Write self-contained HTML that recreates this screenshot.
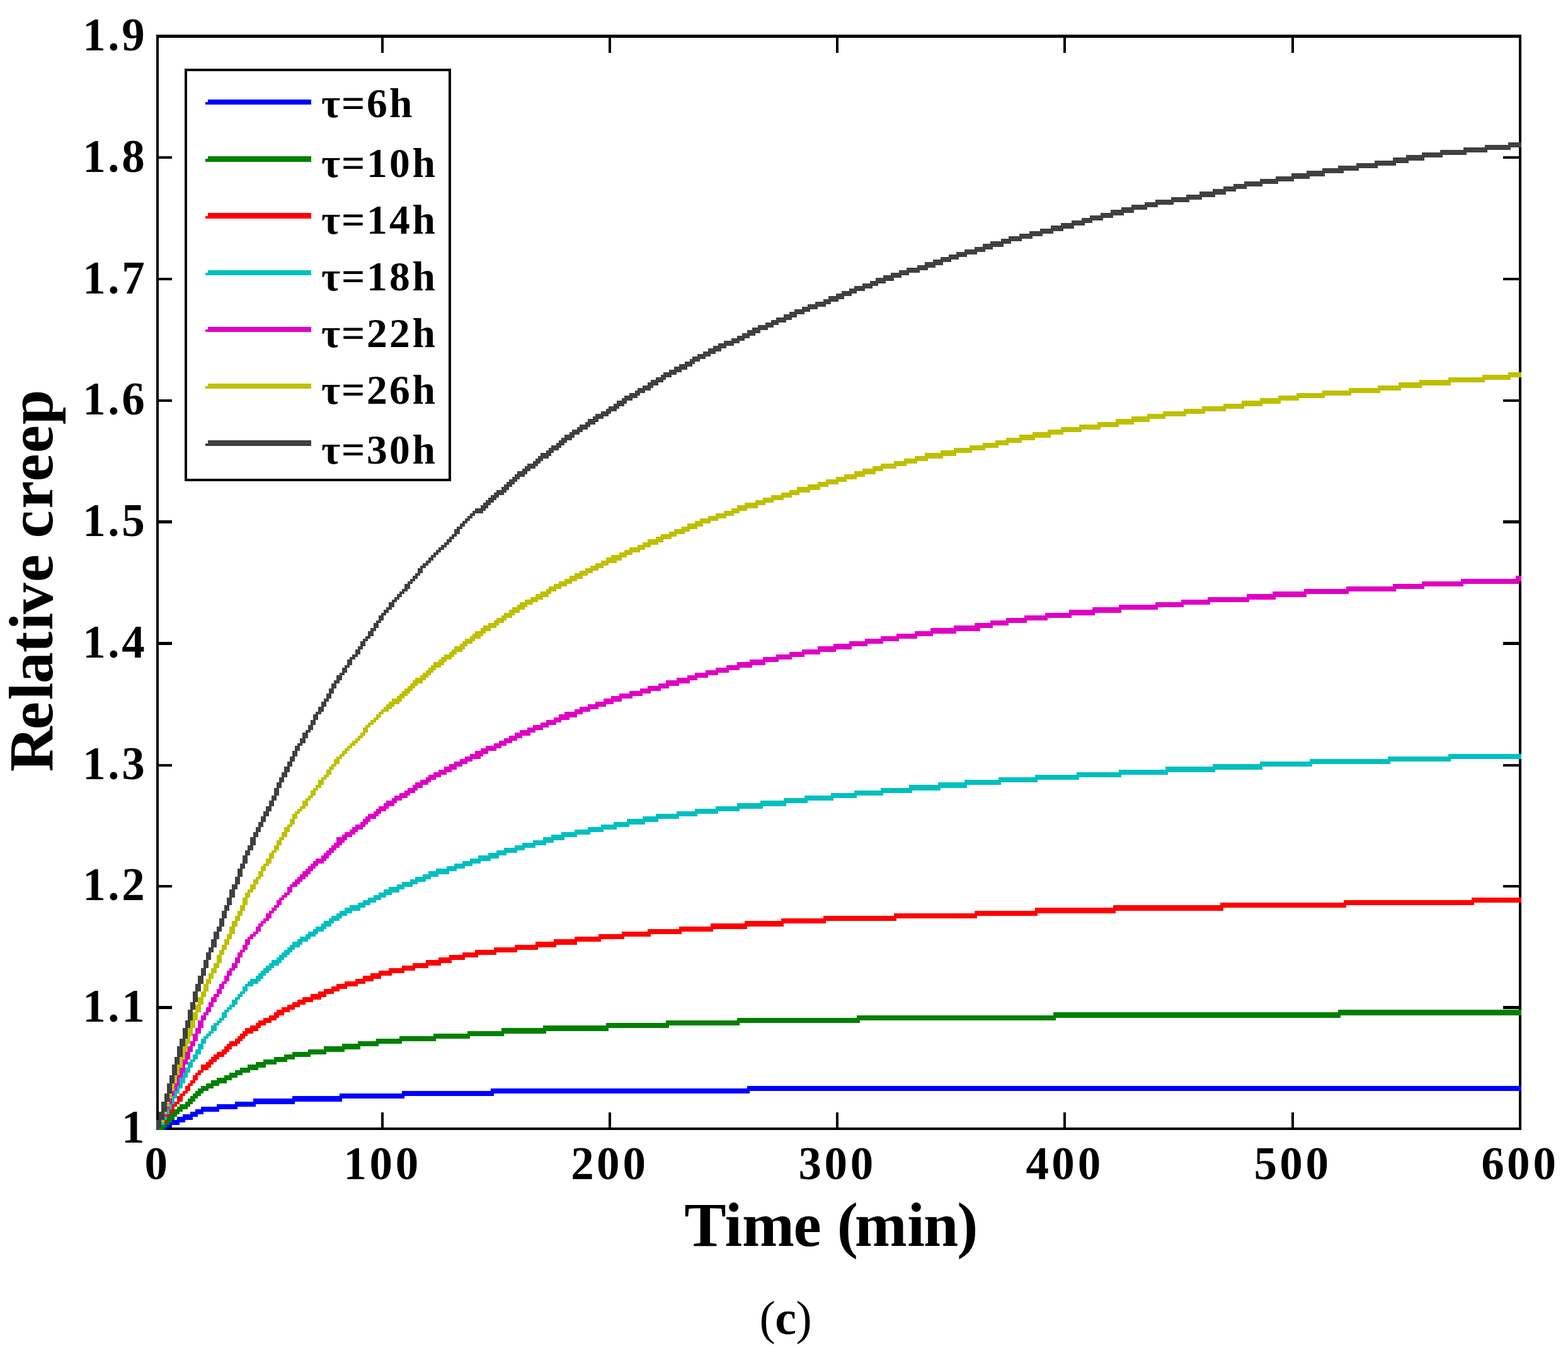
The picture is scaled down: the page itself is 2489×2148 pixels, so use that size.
<!DOCTYPE html>
<html lang="en">
<head>
<meta charset="utf-8">
<title>Relative creep vs. time</title>
<style>
html,body{margin:0;padding:0;background:#fff;}
body{width:2489px;height:2148px;overflow:hidden;}
svg{display:block;}
text{font-family:"Liberation Serif","DejaVu Serif",serif;fill:#000;}
.b{font-weight:bold;}
</style>
</head>
<body>
<svg width="2489" height="2148" viewBox="0 0 2489 2148">
<rect x="0" y="0" width="2489" height="2148" fill="#ffffff"/>
<g id="axes" fill="#000" shape-rendering="crispEdges">
<rect x="248.0" y="55.4" width="4.1" height="1738.7"/>
<rect x="2410.6" y="55.4" width="4.2" height="1738.7"/>
<rect x="248.0" y="55.4" width="2166.8" height="4.2"/>
<rect x="248.0" y="1790.0" width="2166.8" height="4.1"/>
<rect x="605.0" y="1765.5" width="4.2" height="24.5"/>
<rect x="605.0" y="59.6" width="4.2" height="24.0"/>
<rect x="965.6" y="1765.5" width="4.2" height="24.5"/>
<rect x="965.6" y="59.6" width="4.2" height="24.0"/>
<rect x="1327.0" y="1765.5" width="4.2" height="24.5"/>
<rect x="1327.0" y="59.6" width="4.2" height="24.0"/>
<rect x="1687.9" y="1765.5" width="4.2" height="24.5"/>
<rect x="1687.9" y="59.6" width="4.2" height="24.0"/>
<rect x="2049.7" y="1765.5" width="4.1" height="24.5"/>
<rect x="2049.7" y="59.6" width="4.1" height="24.0"/>
<rect x="252.1" y="1597.4" width="20.6" height="4.2"/>
<rect x="2386.2" y="1597.4" width="24.4" height="4.2"/>
<rect x="252.1" y="1404.8" width="20.6" height="4.2"/>
<rect x="2386.2" y="1404.8" width="24.4" height="4.2"/>
<rect x="252.1" y="1212.5" width="20.6" height="4.2"/>
<rect x="2386.2" y="1212.5" width="24.4" height="4.2"/>
<rect x="252.1" y="1019.4" width="20.6" height="4.2"/>
<rect x="2386.2" y="1019.4" width="24.4" height="4.2"/>
<rect x="252.1" y="826.3" width="20.6" height="4.2"/>
<rect x="2386.2" y="826.3" width="24.4" height="4.2"/>
<rect x="252.1" y="633.7" width="20.6" height="4.2"/>
<rect x="2386.2" y="633.7" width="24.4" height="4.2"/>
<rect x="252.1" y="441.1" width="20.6" height="4.1"/>
<rect x="2386.2" y="441.1" width="24.4" height="4.1"/>
<rect x="252.1" y="248.2" width="20.6" height="4.1"/>
<rect x="2386.2" y="248.2" width="24.4" height="4.1"/>
</g>
<g id="curves" shape-rendering="crispEdges">
<path fill="#0000ff" d="M260.5 1790H264.6V1794.1H260.5ZM264.6 1785.9H268.8V1790H264.6ZM268.8 1781.7H272.9V1790H268.8ZM272.9 1777.6H281.2V1785.9H272.9ZM281.2 1773.4H285.4V1785.9H281.2ZM285.4 1773.4H289.5V1781.7H285.4ZM289.5 1769.3H293.7V1781.7H289.5ZM293.7 1769.3H302V1777.6H293.7ZM302 1765.1H306.1V1777.6H302ZM306.1 1765.1H310.3V1773.4H306.1ZM310.3 1761H314.4V1773.4H310.3ZM314.4 1761H318.6V1769.3H314.4ZM318.6 1756.8H322.7V1769.3H318.6ZM322.7 1756.8H343.5V1765.1H322.7ZM343.5 1752.7H347.6V1765.1H343.5ZM347.6 1752.7H372.5V1761H347.6ZM372.5 1748.5H376.7V1761H372.5ZM376.7 1748.5H401.6V1756.8H376.7ZM401.6 1744.4H405.7V1756.8H401.6ZM405.7 1744.4H463.8V1752.7H405.7ZM463.8 1740.2H468V1752.7H463.8ZM468 1740.2H538.6V1748.5H468ZM538.6 1736.1H542.7V1748.5H538.6ZM542.7 1736.1H638.2V1744.4H542.7ZM638.2 1731.9H642.3V1744.4H638.2ZM642.3 1731.9H779.3V1740.2H642.3ZM779.3 1727.8H783.5V1740.2H779.3ZM783.5 1727.8H1186.1V1736.1H783.5ZM1186.1 1723.6H1190.2V1736.1H1186.1ZM1190.2 1723.6H2414.8V1731.9H1190.2Z"/>
<path fill="#008000" d="M252.2 1790H256.3V1794.1H252.2ZM256.3 1785.9H260.5V1794.1H256.3ZM260.5 1781.7H264.6V1790H260.5ZM264.6 1773.4H268.8V1785.9H264.6ZM268.8 1769.3H272.9V1781.7H268.8ZM272.9 1765.1H277.1V1777.6H272.9ZM277.1 1761H281.2V1773.4H277.1ZM281.2 1756.8H285.4V1769.3H281.2ZM285.4 1752.7H289.5V1765.1H285.4ZM289.5 1752.7H293.7V1761H289.5ZM293.7 1748.5H297.8V1761H293.7ZM297.8 1744.4H302V1756.8H297.8ZM302 1740.2H306.1V1752.7H302ZM306.1 1736.1H310.3V1748.5H306.1ZM310.3 1731.9H314.4V1744.4H310.3ZM314.4 1727.8H318.6V1740.2H314.4ZM318.6 1723.6H322.7V1736.1H318.6ZM322.7 1723.6H326.9V1731.9H322.7ZM326.9 1719.5H331V1731.9H326.9ZM331 1719.5H335.2V1727.8H331ZM335.2 1715.3H339.3V1727.8H335.2ZM339.3 1715.3H343.5V1723.6H339.3ZM343.5 1711.2H347.6V1723.6H343.5ZM347.6 1711.2H355.9V1719.5H347.6ZM355.9 1707H360.1V1719.5H355.9ZM360.1 1707H364.2V1715.3H360.1ZM364.2 1702.9H368.4V1715.3H364.2ZM368.4 1702.9H372.5V1711.2H368.4ZM372.5 1698.7H376.7V1711.2H372.5ZM376.7 1698.7H380.8V1707H376.7ZM380.8 1694.6H385V1707H380.8ZM385 1694.6H393.3V1702.9H385ZM393.3 1690.4H397.4V1702.9H393.3ZM397.4 1690.4H405.7V1698.7H397.4ZM405.7 1686.3H409.9V1698.7H405.7ZM409.9 1686.3H418.2V1694.6H409.9ZM418.2 1682.1H422.3V1694.6H418.2ZM422.3 1682.1H434.8V1690.4H422.3ZM434.8 1678H438.9V1690.4H434.8ZM438.9 1678H451.4V1686.3H438.9ZM451.4 1673.8H455.5V1686.3H451.4ZM455.5 1673.8H463.8V1682.1H455.5ZM463.8 1669.7H468V1682.1H463.8ZM468 1669.7H488.8V1678H468ZM488.8 1665.5H492.9V1678H488.8ZM492.9 1665.5H513.7V1673.8H492.9ZM513.7 1661.4H517.8V1673.8H513.7ZM517.8 1661.4H542.7V1669.7H517.8ZM542.7 1657.2H546.9V1669.7H542.7ZM546.9 1657.2H567.6V1665.5H546.9ZM567.6 1653.1H571.8V1665.5H567.6ZM571.8 1653.1H596.7V1661.4H571.8ZM596.7 1648.9H600.8V1661.4H596.7ZM600.8 1648.9H634V1657.2H600.8ZM634 1644.8H638.2V1657.2H634ZM638.2 1644.8H688V1653.1H638.2ZM688 1640.6H692.1V1653.1H688ZM692.1 1640.6H742V1648.9H692.1ZM742 1636.5H746.1V1648.9H742ZM746.1 1636.5H795.9V1644.8H746.1ZM795.9 1632.3H800.1V1644.8H795.9ZM800.1 1632.3H862.3V1640.6H800.1ZM862.3 1628.2H866.5V1640.6H862.3ZM866.5 1628.2H961.9V1636.5H866.5ZM961.9 1624H966.1V1636.5H961.9ZM966.1 1624H1057.4V1632.3H966.1ZM1057.4 1619.9H1061.6V1632.3H1057.4ZM1061.6 1619.9H1169.5V1628.2H1061.6ZM1169.5 1615.7H1173.6V1628.2H1169.5ZM1173.6 1615.7H1360.4V1624H1173.6ZM1360.4 1611.6H1364.6V1624H1360.4ZM1364.6 1611.6H1671.7V1619.9H1364.6ZM1671.7 1607.4H1675.9V1619.9H1671.7ZM1675.9 1607.4H2124.2V1615.7H1675.9ZM2124.2 1603.3H2128.3V1615.7H2124.2ZM2128.3 1603.3H2414.8V1611.6H2128.3Z"/>
<path fill="#ff0000" d="M260.5 1777.6H264.6V1781.7H260.5ZM264.6 1769.3H268.8V1773.4H264.6ZM268.8 1761H272.9V1769.3H268.8ZM272.9 1752.7H277.1V1765.1H272.9ZM277.1 1748.5H281.2V1756.8H277.1ZM281.2 1740.2H285.4V1752.7H281.2ZM285.4 1736.1H289.5V1748.5H285.4ZM289.5 1731.9H293.7V1740.2H289.5ZM293.7 1723.6H297.8V1736.1H293.7ZM297.8 1719.5H302V1731.9H297.8ZM302 1715.3H306.1V1723.6H302ZM306.1 1707H310.3V1719.5H306.1ZM310.3 1702.9H314.4V1715.3H310.3ZM314.4 1698.7H318.6V1707H314.4ZM318.6 1690.4H322.7V1702.9H318.6ZM322.7 1690.4H326.9V1698.7H322.7ZM326.9 1686.3H331V1698.7H326.9ZM331 1682.1H335.2V1694.6H331ZM335.2 1678H339.3V1690.4H335.2ZM339.3 1673.8H343.5V1686.3H339.3ZM343.5 1669.7H347.6V1682.1H343.5ZM347.6 1669.7H351.8V1678H347.6ZM351.8 1665.5H355.9V1678H351.8ZM355.9 1661.4H360.1V1673.8H355.9ZM360.1 1657.2H364.2V1669.7H360.1ZM364.2 1653.1H368.4V1665.5H364.2ZM368.4 1653.1H372.5V1661.4H368.4ZM372.5 1648.9H376.7V1661.4H372.5ZM376.7 1644.8H380.8V1657.2H376.7ZM380.8 1640.6H385V1653.1H380.8ZM385 1636.5H389.1V1648.9H385ZM389.1 1632.3H393.3V1644.8H389.1ZM393.3 1632.3H397.4V1640.6H393.3ZM397.4 1628.2H401.6V1640.6H397.4ZM401.6 1628.2H405.7V1636.5H401.6ZM405.7 1624H409.9V1636.5H405.7ZM409.9 1619.9H414V1632.3H409.9ZM414 1619.9H418.2V1628.2H414ZM418.2 1615.7H422.3V1628.2H418.2ZM422.3 1615.7H426.5V1624H422.3ZM426.5 1611.6H430.6V1624H426.5ZM430.6 1611.6H434.8V1619.9H430.6ZM434.8 1607.4H438.9V1619.9H434.8ZM438.9 1603.3H443.1V1615.7H438.9ZM443.1 1603.3H447.2V1611.6H443.1ZM447.2 1599.1H451.4V1611.6H447.2ZM451.4 1599.1H455.5V1607.4H451.4ZM455.5 1595H459.7V1607.4H455.5ZM459.7 1595H463.8V1603.3H459.7ZM463.8 1590.8H468V1603.3H463.8ZM468 1590.8H472.1V1599.1H468ZM472.1 1586.7H476.3V1599.1H472.1ZM476.3 1586.7H480.4V1595H476.3ZM480.4 1582.5H484.6V1595H480.4ZM484.6 1582.5H492.9V1590.8H484.6ZM492.9 1578.4H497.1V1590.8H492.9ZM497.1 1578.4H505.4V1586.7H497.1ZM505.4 1574.2H509.5V1586.7H505.4ZM509.5 1574.2H513.7V1582.5H509.5ZM513.7 1570.1H517.8V1582.5H513.7ZM517.8 1570.1H526.1V1578.4H517.8ZM526.1 1565.9H530.3V1578.4H526.1ZM530.3 1565.9H534.4V1574.2H530.3ZM534.4 1561.8H538.6V1574.2H534.4ZM538.6 1561.8H546.9V1570.1H538.6ZM546.9 1557.6H551V1570.1H546.9ZM551 1557.6H563.5V1565.9H551ZM563.5 1553.5H567.6V1565.9H563.5ZM567.6 1553.5H575.9V1561.8H567.6ZM575.9 1549.3H580.1V1561.8H575.9ZM580.1 1549.3H588.4V1557.6H580.1ZM588.4 1545.2H592.5V1557.6H588.4ZM592.5 1545.2H600.8V1553.5H592.5ZM600.8 1541H605V1553.5H600.8ZM605 1541H617.4V1549.3H605ZM617.4 1536.9H621.6V1549.3H617.4ZM621.6 1536.9H638.2V1545.2H621.6ZM638.2 1532.7H642.3V1545.2H638.2ZM642.3 1532.7H654.8V1541H642.3ZM654.8 1528.6H658.9V1541H654.8ZM658.9 1528.6H675.5V1536.9H658.9ZM675.5 1524.4H679.7V1536.9H675.5ZM679.7 1524.4H696.3V1532.7H679.7ZM696.3 1520.3H700.4V1532.7H696.3ZM700.4 1520.3H712.9V1528.6H700.4ZM712.9 1516.1H717V1528.6H712.9ZM717 1516.1H733.7V1524.4H717ZM733.7 1512H737.8V1524.4H733.7ZM737.8 1512H754.4V1520.3H737.8ZM754.4 1507.8H758.6V1520.3H754.4ZM758.6 1507.8H783.5V1516.1H758.6ZM783.5 1503.7H787.6V1516.1H783.5ZM787.6 1503.7H816.7V1512H787.6ZM816.7 1499.5H820.8V1512H816.7ZM820.8 1499.5H849.9V1507.8H820.8ZM849.9 1495.4H854V1507.8H849.9ZM854 1495.4H878.9V1503.7H854ZM878.9 1491.2H883.1V1503.7H878.9ZM883.1 1491.2H912.1V1499.5H883.1ZM912.1 1487.1H916.3V1499.5H912.1ZM916.3 1487.1H949.5V1495.4H916.3ZM949.5 1482.9H953.6V1495.4H949.5ZM953.6 1482.9H986.9V1491.2H953.6ZM986.9 1478.8H991V1491.2H986.9ZM991 1478.8H1028.4V1487.1H991ZM1028.4 1474.6H1032.5V1487.1H1028.4ZM1032.5 1474.6H1078.2V1482.9H1032.5ZM1078.2 1470.5H1082.3V1482.9H1078.2ZM1082.3 1470.5H1128V1478.8H1082.3ZM1128 1466.3H1132.1V1478.8H1128ZM1132.1 1466.3H1181.9V1474.6H1132.1ZM1181.9 1462.2H1186.1V1474.6H1181.9ZM1186.1 1462.2H1240.1V1470.5H1186.1ZM1240.1 1458H1244.2V1470.5H1240.1ZM1244.2 1458H1306.5V1466.3H1244.2ZM1306.5 1453.9H1310.6V1466.3H1306.5ZM1310.6 1453.9H1418.5V1462.2H1310.6ZM1418.5 1449.7H1422.7V1462.2H1418.5ZM1422.7 1449.7H1547.2V1458H1422.7ZM1547.2 1445.6H1551.4V1458H1547.2ZM1551.4 1445.6H1642.7V1453.9H1551.4ZM1642.7 1441.4H1646.8V1453.9H1642.7ZM1646.8 1441.4H1767.2V1449.7H1646.8ZM1767.2 1437.3H1771.4V1449.7H1767.2ZM1771.4 1437.3H1937.4V1445.6H1771.4ZM1937.4 1433.1H1941.6V1445.6H1937.4ZM1941.6 1433.1H2132.5V1441.4H1941.6ZM2132.5 1429H2136.6V1441.4H2132.5ZM2136.6 1429H2335.9V1437.3H2136.6ZM2335.9 1424.8H2340V1437.3H2335.9ZM2340 1424.8H2414.8V1433.1H2340Z"/>
<path fill="#00bfbf" d="M256.3 1781.7H260.5V1785.9H256.3ZM260.5 1773.4H264.6V1777.6H260.5ZM264.6 1761H268.8V1769.3H264.6ZM268.8 1752.7H272.9V1761H268.8ZM272.9 1740.2H277.1V1752.7H272.9ZM277.1 1731.9H281.2V1744.4H277.1ZM281.2 1723.6H285.4V1736.1H281.2ZM285.4 1711.2H289.5V1727.8H285.4ZM289.5 1702.9H293.7V1719.5H289.5ZM293.7 1694.6H297.8V1711.2H293.7ZM297.8 1686.3H302V1702.9H297.8ZM302 1682.1H306.1V1694.6H302ZM306.1 1673.8H310.3V1686.3H306.1ZM310.3 1665.5H314.4V1682.1H310.3ZM314.4 1657.2H318.6V1673.8H314.4ZM318.6 1648.9H322.7V1665.5H318.6ZM322.7 1644.8H326.9V1657.2H322.7ZM326.9 1640.6H331V1648.9H326.9ZM331 1636.5H335.2V1644.8H331ZM335.2 1628.2H339.3V1640.6H335.2ZM339.3 1624H343.5V1636.5H339.3ZM343.5 1619.9H347.6V1628.2H343.5ZM347.6 1615.7H351.8V1624H347.6ZM351.8 1607.4H355.9V1619.9H351.8ZM355.9 1603.3H360.1V1615.7H355.9ZM360.1 1599.1H364.2V1607.4H360.1ZM364.2 1595H368.4V1603.3H364.2ZM368.4 1586.7H372.5V1599.1H368.4ZM372.5 1582.5H376.7V1595H372.5ZM376.7 1578.4H380.8V1586.7H376.7ZM380.8 1574.2H385V1582.5H380.8ZM385 1565.9H389.1V1578.4H385ZM389.1 1561.8H393.3V1574.2H389.1ZM393.3 1557.6H397.4V1565.9H393.3ZM397.4 1553.5H401.6V1565.9H397.4ZM401.6 1553.5H405.7V1561.8H401.6ZM405.7 1549.3H409.9V1561.8H405.7ZM409.9 1545.2H414V1557.6H409.9ZM414 1541H418.2V1553.5H414ZM418.2 1536.9H422.3V1549.3H418.2ZM422.3 1532.7H426.5V1545.2H422.3ZM426.5 1528.6H430.6V1541H426.5ZM430.6 1524.4H434.8V1536.9H430.6ZM434.8 1524.4H438.9V1532.7H434.8ZM438.9 1520.3H443.1V1532.7H438.9ZM443.1 1516.1H447.2V1528.6H443.1ZM447.2 1512H451.4V1524.4H447.2ZM451.4 1507.8H455.5V1520.3H451.4ZM455.5 1503.7H459.7V1516.1H455.5ZM459.7 1499.5H463.8V1512H459.7ZM463.8 1495.4H468V1507.8H463.8ZM468 1495.4H472.1V1503.7H468ZM472.1 1491.2H476.3V1503.7H472.1ZM476.3 1487.1H480.4V1499.5H476.3ZM480.4 1487.1H484.6V1495.4H480.4ZM484.6 1482.9H488.8V1495.4H484.6ZM488.8 1478.8H492.9V1491.2H488.8ZM492.9 1478.8H497.1V1487.1H492.9ZM497.1 1474.6H501.2V1487.1H497.1ZM501.2 1470.5H505.4V1482.9H501.2ZM505.4 1470.5H509.5V1478.8H505.4ZM509.5 1466.3H513.7V1478.8H509.5ZM513.7 1462.2H517.8V1474.6H513.7ZM517.8 1462.2H522V1470.5H517.8ZM522 1458H526.1V1470.5H522ZM526.1 1453.9H530.3V1466.3H526.1ZM530.3 1453.9H534.4V1462.2H530.3ZM534.4 1449.7H538.6V1462.2H534.4ZM538.6 1445.6H542.7V1458H538.6ZM542.7 1445.6H546.9V1453.9H542.7ZM546.9 1441.4H551V1453.9H546.9ZM551 1441.4H555.2V1449.7H551ZM555.2 1437.3H559.3V1449.7H555.2ZM559.3 1437.3H567.6V1445.6H559.3ZM567.6 1433.1H571.8V1445.6H567.6ZM571.8 1433.1H575.9V1441.4H571.8ZM575.9 1429H580.1V1441.4H575.9ZM580.1 1429H584.2V1437.3H580.1ZM584.2 1424.8H588.4V1437.3H584.2ZM588.4 1424.8H592.5V1433.1H588.4ZM592.5 1420.7H596.7V1433.1H592.5ZM596.7 1420.7H600.8V1429H596.7ZM600.8 1416.5H605V1429H600.8ZM605 1416.5H609.1V1424.8H605ZM609.1 1412.4H613.3V1424.8H609.1ZM613.3 1412.4H617.4V1420.7H613.3ZM617.4 1408.2H621.6V1420.7H617.4ZM621.6 1408.2H629.9V1416.5H621.6ZM629.9 1404.1H634V1416.5H629.9ZM634 1404.1H638.2V1412.4H634ZM638.2 1399.9H642.3V1412.4H638.2ZM642.3 1399.9H650.6V1408.2H642.3ZM650.6 1395.8H654.8V1408.2H650.6ZM654.8 1395.8H658.9V1404.1H654.8ZM658.9 1391.6H663.1V1404.1H658.9ZM663.1 1391.6H671.4V1399.9H663.1ZM671.4 1387.5H675.5V1399.9H671.4ZM675.5 1387.5H679.7V1395.8H675.5ZM679.7 1383.3H683.8V1395.8H679.7ZM683.8 1383.3H692.1V1391.6H683.8ZM692.1 1379.2H696.3V1391.6H692.1ZM696.3 1379.2H708.7V1387.5H696.3ZM708.7 1375H712.9V1387.5H708.7ZM712.9 1375H721.2V1383.3H712.9ZM721.2 1370.9H725.3V1383.3H721.2ZM725.3 1370.9H733.7V1379.2H725.3ZM733.7 1366.7H737.8V1379.2H733.7ZM737.8 1366.7H746.1V1375H737.8ZM746.1 1362.6H750.3V1375H746.1ZM750.3 1362.6H758.6V1370.9H750.3ZM758.6 1358.4H762.7V1370.9H758.6ZM762.7 1358.4H775.2V1366.7H762.7ZM775.2 1354.3H779.3V1366.7H775.2ZM779.3 1354.3H787.6V1362.6H779.3ZM787.6 1350.1H791.8V1362.6H787.6ZM791.8 1350.1H800.1V1358.4H791.8ZM800.1 1346H804.2V1358.4H800.1ZM804.2 1346H816.7V1354.3H804.2ZM816.7 1341.8H820.8V1354.3H816.7ZM820.8 1341.8H829.1V1350.1H820.8ZM829.1 1337.7H833.3V1350.1H829.1ZM833.3 1337.7H845.7V1346H833.3ZM845.7 1333.5H849.9V1346H845.7ZM849.9 1333.5H862.3V1341.8H849.9ZM862.3 1329.4H866.5V1341.8H862.3ZM866.5 1329.4H874.8V1337.7H866.5ZM874.8 1325.2H878.9V1337.7H874.8ZM878.9 1325.2H891.4V1333.5H878.9ZM891.4 1321.1H895.5V1333.5H891.4ZM895.5 1321.1H912.1V1329.4H895.5ZM912.1 1316.9H916.3V1329.4H912.1ZM916.3 1316.9H932.9V1325.2H916.3ZM932.9 1312.8H937V1325.2H932.9ZM937 1312.8H953.6V1321.1H937ZM953.6 1308.6H957.8V1321.1H953.6ZM957.8 1308.6H974.4V1316.9H957.8ZM974.4 1304.5H978.6V1316.9H974.4ZM978.6 1304.5H995.2V1312.8H978.6ZM995.2 1300.3H999.3V1312.8H995.2ZM999.3 1300.3H1020.1V1308.6H999.3ZM1020.1 1296.2H1024.2V1308.6H1020.1ZM1024.2 1296.2H1040.8V1304.5H1024.2ZM1040.8 1292H1045V1304.5H1040.8ZM1045 1292H1074V1300.3H1045ZM1074 1287.9H1078.2V1300.3H1074ZM1078.2 1287.9H1103.1V1296.2H1078.2ZM1103.1 1283.7H1107.2V1296.2H1103.1ZM1107.2 1283.7H1136.3V1292H1107.2ZM1136.3 1279.6H1140.4V1292H1136.3ZM1140.4 1279.6H1169.5V1287.9H1140.4ZM1169.5 1275.4H1173.6V1287.9H1169.5ZM1173.6 1275.4H1206.8V1283.7H1173.6ZM1206.8 1271.3H1211V1283.7H1206.8ZM1211 1271.3H1244.2V1279.6H1211ZM1244.2 1267.1H1248.4V1279.6H1244.2ZM1248.4 1267.1H1277.4V1275.4H1248.4ZM1277.4 1263H1281.6V1275.4H1277.4ZM1281.6 1263H1318.9V1271.3H1281.6ZM1318.9 1258.8H1323.1V1271.3H1318.9ZM1323.1 1258.8H1356.3V1267.1H1323.1ZM1356.3 1254.7H1360.4V1267.1H1356.3ZM1360.4 1254.7H1397.8V1263H1360.4ZM1397.8 1250.5H1401.9V1263H1397.8ZM1401.9 1250.5H1443.4V1258.8H1401.9ZM1443.4 1246.4H1447.6V1258.8H1443.4ZM1447.6 1246.4H1489.1V1254.7H1447.6ZM1489.1 1242.2H1493.3V1254.7H1489.1ZM1493.3 1242.2H1530.6V1250.5H1493.3ZM1530.6 1238.1H1534.8V1250.5H1530.6ZM1534.8 1238.1H1584.6V1246.4H1534.8ZM1584.6 1233.9H1588.7V1246.4H1584.6ZM1588.7 1233.9H1642.7V1242.2H1588.7ZM1642.7 1229.8H1646.8V1242.2H1642.7ZM1646.8 1229.8H1709.1V1238.1H1646.8ZM1709.1 1225.6H1713.3V1238.1H1709.1ZM1713.3 1225.6H1775.5V1233.9H1713.3ZM1775.5 1221.5H1779.7V1233.9H1775.5ZM1779.7 1221.5H1850.2V1229.8H1779.7ZM1850.2 1217.3H1854.4V1229.8H1850.2ZM1854.4 1217.3H1924.9V1225.6H1854.4ZM1924.9 1213.2H1929.1V1225.6H1924.9ZM1929.1 1213.2H1999.7V1221.5H1929.1ZM1999.7 1209H2003.8V1221.5H1999.7ZM2003.8 1209H2078.5V1217.3H2003.8ZM2078.5 1204.9H2082.7V1217.3H2078.5ZM2082.7 1204.9H2203.1V1213.2H2082.7ZM2203.1 1200.7H2207.2V1213.2H2203.1ZM2207.2 1200.7H2298.5V1209H2207.2ZM2298.5 1196.6H2302.7V1209H2298.5ZM2302.7 1196.6H2414.8V1204.9H2302.7Z"/>
<path fill="#df00c4" d="M260.5 1769.3H264.6V1773.4H260.5ZM264.6 1756.8H268.8V1761H264.6ZM268.8 1744.4H272.9V1752.7H268.8ZM272.9 1731.9H277.1V1740.2H272.9ZM277.1 1719.5H281.2V1731.9H277.1ZM281.2 1707H285.4V1723.6H281.2ZM285.4 1694.6H289.5V1711.2H285.4ZM289.5 1682.1H293.7V1702.9H289.5ZM293.7 1669.7H297.8V1690.4H293.7ZM297.8 1661.4H302V1682.1H297.8ZM302 1653.1H306.1V1669.7H302ZM306.1 1640.6H310.3V1661.4H306.1ZM310.3 1632.3H314.4V1653.1H310.3ZM314.4 1619.9H318.6V1640.6H314.4ZM318.6 1611.6H322.7V1632.3H318.6ZM322.7 1607.4H326.9V1619.9H322.7ZM326.9 1599.1H331V1611.6H326.9ZM331 1590.8H335.2V1607.4H331ZM335.2 1582.5H339.3V1599.1H335.2ZM339.3 1578.4H343.5V1590.8H339.3ZM343.5 1570.1H347.6V1582.5H343.5ZM347.6 1561.8H351.8V1578.4H347.6ZM351.8 1557.6H355.9V1570.1H351.8ZM355.9 1549.3H360.1V1561.8H355.9ZM360.1 1541H364.2V1557.6H360.1ZM364.2 1536.9H368.4V1549.3H364.2ZM368.4 1528.6H372.5V1541H368.4ZM372.5 1520.3H376.7V1536.9H372.5ZM376.7 1512H380.8V1528.6H376.7ZM380.8 1507.8H385V1520.3H380.8ZM385 1499.5H389.1V1512H385ZM389.1 1491.2H393.3V1507.8H389.1ZM393.3 1487.1H397.4V1499.5H393.3ZM397.4 1482.9H401.6V1491.2H397.4ZM401.6 1478.8H405.7V1487.1H401.6ZM405.7 1470.5H409.9V1482.9H405.7ZM409.9 1466.3H414V1478.8H409.9ZM414 1462.2H418.2V1470.5H414ZM418.2 1458H422.3V1466.3H418.2ZM422.3 1449.7H426.5V1462.2H422.3ZM426.5 1445.6H430.6V1458H426.5ZM430.6 1441.4H434.8V1449.7H430.6ZM434.8 1437.3H438.9V1445.6H434.8ZM438.9 1429H443.1V1441.4H438.9ZM443.1 1424.8H447.2V1437.3H443.1ZM447.2 1420.7H451.4V1429H447.2ZM451.4 1416.5H455.5V1424.8H451.4ZM455.5 1408.2H459.7V1420.7H455.5ZM459.7 1404.1H463.8V1416.5H459.7ZM463.8 1399.9H468V1408.2H463.8ZM468 1395.8H472.1V1408.2H468ZM472.1 1391.6H476.3V1404.1H472.1ZM476.3 1387.5H480.4V1399.9H476.3ZM480.4 1383.3H484.6V1395.8H480.4ZM484.6 1379.2H488.8V1391.6H484.6ZM488.8 1375H492.9V1387.5H488.8ZM492.9 1370.9H497.1V1383.3H492.9ZM497.1 1366.7H501.2V1379.2H497.1ZM501.2 1362.6H505.4V1375H501.2ZM505.4 1362.6H509.5V1370.9H505.4ZM509.5 1358.4H513.7V1370.9H509.5ZM513.7 1354.3H517.8V1366.7H513.7ZM517.8 1350.1H522V1362.6H517.8ZM522 1346H526.1V1358.4H522ZM526.1 1341.8H530.3V1354.3H526.1ZM530.3 1337.7H534.4V1350.1H530.3ZM534.4 1329.4H538.6V1346H534.4ZM538.6 1329.4H542.7V1341.8H538.6ZM542.7 1325.2H546.9V1337.7H542.7ZM546.9 1321.1H551V1333.5H546.9ZM551 1321.1H555.2V1329.4H551ZM555.2 1316.9H559.3V1329.4H555.2ZM559.3 1312.8H563.5V1325.2H559.3ZM563.5 1308.6H567.6V1321.1H563.5ZM567.6 1308.6H571.8V1316.9H567.6ZM571.8 1304.5H575.9V1316.9H571.8ZM575.9 1300.3H580.1V1312.8H575.9ZM580.1 1296.2H584.2V1308.6H580.1ZM584.2 1292H588.4V1304.5H584.2ZM588.4 1292H592.5V1300.3H588.4ZM592.5 1287.9H596.7V1300.3H592.5ZM596.7 1283.7H600.8V1296.2H596.7ZM600.8 1279.6H605V1292H600.8ZM605 1279.6H609.1V1287.9H605ZM609.1 1275.4H613.3V1287.9H609.1ZM613.3 1271.3H617.4V1283.7H613.3ZM617.4 1271.3H621.6V1279.6H617.4ZM621.6 1267.1H625.7V1279.6H621.6ZM625.7 1263H629.9V1275.4H625.7ZM629.9 1263H634V1271.3H629.9ZM634 1258.8H638.2V1271.3H634ZM638.2 1258.8H642.3V1267.1H638.2ZM642.3 1254.7H646.5V1267.1H642.3ZM646.5 1250.5H650.6V1263H646.5ZM650.6 1250.5H654.8V1258.8H650.6ZM654.8 1246.4H658.9V1258.8H654.8ZM658.9 1242.2H663.1V1254.7H658.9ZM663.1 1242.2H667.2V1250.5H663.1ZM667.2 1238.1H671.4V1250.5H667.2ZM671.4 1238.1H675.5V1246.4H671.4ZM675.5 1233.9H679.7V1246.4H675.5ZM679.7 1229.8H683.8V1242.2H679.7ZM683.8 1229.8H688V1238.1H683.8ZM688 1225.6H692.1V1238.1H688ZM692.1 1225.6H696.3V1233.9H692.1ZM696.3 1221.5H700.4V1233.9H696.3ZM700.4 1221.5H704.6V1229.8H700.4ZM704.6 1217.3H708.7V1229.8H704.6ZM708.7 1217.3H712.9V1225.6H708.7ZM712.9 1213.2H717V1225.6H712.9ZM717 1213.2H721.2V1221.5H717ZM721.2 1209H725.3V1221.5H721.2ZM725.3 1209H729.5V1217.3H725.3ZM729.5 1204.9H733.7V1217.3H729.5ZM733.7 1204.9H737.8V1213.2H733.7ZM737.8 1200.7H742V1213.2H737.8ZM742 1200.7H746.1V1209H742ZM746.1 1196.6H750.3V1209H746.1ZM750.3 1196.6H754.4V1204.9H750.3ZM754.4 1192.4H762.7V1204.9H754.4ZM762.7 1188.3H766.9V1200.7H762.7ZM766.9 1188.3H771V1196.6H766.9ZM771 1184.1H775.2V1196.6H771ZM775.2 1184.1H783.5V1192.4H775.2ZM783.5 1180H787.6V1192.4H783.5ZM787.6 1180H791.8V1188.3H787.6ZM791.8 1175.8H795.9V1188.3H791.8ZM795.9 1175.8H800.1V1184.1H795.9ZM800.1 1171.7H804.2V1184.1H800.1ZM804.2 1171.7H808.4V1180H804.2ZM808.4 1167.5H812.5V1180H808.4ZM812.5 1167.5H816.7V1175.8H812.5ZM816.7 1163.4H820.8V1175.8H816.7ZM820.8 1163.4H825V1171.7H820.8ZM825 1159.2H829.1V1171.7H825ZM829.1 1159.2H837.4V1167.5H829.1ZM837.4 1155.1H841.6V1167.5H837.4ZM841.6 1155.1H845.7V1163.4H841.6ZM845.7 1150.9H849.9V1163.4H845.7ZM849.9 1150.9H858.2V1159.2H849.9ZM858.2 1146.8H862.3V1159.2H858.2ZM862.3 1146.8H866.5V1155.1H862.3ZM866.5 1142.6H870.6V1155.1H866.5ZM870.6 1142.6H878.9V1150.9H870.6ZM878.9 1138.5H883.1V1150.9H878.9ZM883.1 1138.5H887.2V1146.8H883.1ZM887.2 1134.3H891.4V1146.8H887.2ZM891.4 1134.3H895.5V1142.6H891.4ZM895.5 1130.2H903.8V1142.6H895.5ZM903.8 1130.2H912.1V1138.5H903.8ZM912.1 1126H916.3V1138.5H912.1ZM916.3 1126H920.4V1134.3H916.3ZM920.4 1121.9H924.6V1134.3H920.4ZM924.6 1121.9H932.9V1130.2H924.6ZM932.9 1117.7H937V1130.2H932.9ZM937 1117.7H945.3V1126H937ZM945.3 1113.6H949.5V1126H945.3ZM949.5 1113.6H957.8V1121.9H949.5ZM957.8 1109.4H961.9V1121.9H957.8ZM961.9 1109.4H970.3V1117.7H961.9ZM970.3 1105.3H974.4V1117.7H970.3ZM974.4 1105.3H982.7V1113.6H974.4ZM982.7 1101.1H986.9V1113.6H982.7ZM986.9 1101.1H999.3V1109.4H986.9ZM999.3 1097H1003.5V1109.4H999.3ZM1003.5 1097H1015.9V1105.3H1003.5ZM1015.9 1092.8H1020.1V1105.3H1015.9ZM1020.1 1092.8H1028.4V1101.1H1020.1ZM1028.4 1088.7H1032.5V1101.1H1028.4ZM1032.5 1088.7H1045V1097H1032.5ZM1045 1084.5H1049.1V1097H1045ZM1049.1 1084.5H1057.4V1092.8H1049.1ZM1057.4 1080.4H1061.6V1092.8H1057.4ZM1061.6 1080.4H1074V1088.7H1061.6ZM1074 1076.2H1078.2V1088.7H1074ZM1078.2 1076.2H1090.6V1084.5H1078.2ZM1090.6 1072.1H1094.8V1084.5H1090.6ZM1094.8 1072.1H1103.1V1080.4H1094.8ZM1103.1 1067.9H1107.2V1080.4H1103.1ZM1107.2 1067.9H1119.7V1076.2H1107.2ZM1119.7 1063.8H1123.8V1076.2H1119.7ZM1123.8 1063.8H1136.3V1072.1H1123.8ZM1136.3 1059.6H1140.4V1072.1H1136.3ZM1140.4 1059.6H1152.9V1067.9H1140.4ZM1152.9 1055.5H1157V1067.9H1152.9ZM1157 1055.5H1169.5V1063.8H1157ZM1169.5 1051.3H1173.6V1063.8H1169.5ZM1173.6 1051.3H1190.2V1059.6H1173.6ZM1190.2 1047.2H1194.4V1059.6H1190.2ZM1194.4 1047.2H1211V1055.5H1194.4ZM1211 1043H1215.2V1055.5H1211ZM1215.2 1043H1231.8V1051.3H1215.2ZM1231.8 1038.9H1235.9V1051.3H1231.8ZM1235.9 1038.9H1252.5V1047.2H1235.9ZM1252.5 1034.7H1256.7V1047.2H1252.5ZM1256.7 1034.7H1273.3V1043H1256.7ZM1273.3 1030.6H1277.4V1043H1273.3ZM1277.4 1030.6H1298.2V1038.9H1277.4ZM1298.2 1026.4H1302.3V1038.9H1298.2ZM1302.3 1026.4H1323.1V1034.7H1302.3ZM1323.1 1022.3H1327.2V1034.7H1323.1ZM1327.2 1022.3H1348V1030.6H1327.2ZM1348 1018.1H1352.1V1030.6H1348ZM1352.1 1018.1H1372.9V1026.4H1352.1ZM1372.9 1014H1377V1026.4H1372.9ZM1377 1014H1397.8V1022.3H1377ZM1397.8 1009.8H1401.9V1022.3H1397.8ZM1401.9 1009.8H1422.7V1018.1H1401.9ZM1422.7 1005.7H1426.8V1018.1H1422.7ZM1426.8 1005.7H1451.8V1014H1426.8ZM1451.8 1001.5H1455.9V1014H1451.8ZM1455.9 1001.5H1476.7V1009.8H1455.9ZM1476.7 997.4H1480.8V1009.8H1476.7ZM1480.8 997.4H1514V1005.7H1480.8ZM1514 993.2H1518.2V1005.7H1514ZM1518.2 993.2H1547.2V1001.5H1518.2ZM1547.2 989.1H1555.5V1001.5H1547.2ZM1555.5 989.1H1572.1V997.4H1555.5ZM1572.1 984.9H1576.3V997.4H1572.1ZM1576.3 984.9H1597V993.2H1576.3ZM1597 980.8H1601.2V993.2H1597ZM1601.2 980.8H1626.1V989.1H1601.2ZM1626.1 976.6H1630.2V989.1H1626.1ZM1630.2 976.6H1659.3V984.9H1630.2ZM1659.3 972.5H1663.4V984.9H1659.3ZM1663.4 972.5H1696.7V980.8H1663.4ZM1696.7 968.3H1700.8V980.8H1696.7ZM1700.8 968.3H1734V976.6H1700.8ZM1734 964.2H1738.2V976.6H1734ZM1738.2 964.2H1775.5V972.5H1738.2ZM1775.5 960H1779.7V972.5H1775.5ZM1779.7 960H1833.6V968.3H1779.7ZM1833.6 955.9H1837.8V968.3H1833.6ZM1837.8 955.9H1875.1V964.2H1837.8ZM1875.1 951.7H1879.3V964.2H1875.1ZM1879.3 951.7H1916.6V960H1879.3ZM1916.6 947.6H1920.8V960H1916.6ZM1920.8 947.6H1978.9V955.9H1920.8ZM1978.9 943.4H1983.1V955.9H1978.9ZM1983.1 943.4H2020.4V951.7H1983.1ZM2020.4 939.3H2024.6V951.7H2020.4ZM2024.6 939.3H2070.2V947.6H2024.6ZM2070.2 935.1H2074.4V947.6H2070.2ZM2074.4 935.1H2136.6V943.4H2074.4ZM2136.6 931H2140.8V943.4H2136.6ZM2140.8 931H2211.4V939.3H2140.8ZM2211.4 926.8H2215.5V939.3H2211.4ZM2215.5 926.8H2257V935.1H2215.5ZM2257 922.7H2261.2V935.1H2257ZM2261.2 922.7H2319.3V931H2261.2ZM2319.3 918.6H2323.4V931H2319.3ZM2323.4 918.6H2406.4V926.8H2323.4ZM2406.4 914.4H2410.6V926.8H2406.4ZM2410.6 914.4H2414.8V922.7H2410.6Z"/>
<path fill="#bfbf00" d="M256.3 1777.6H260.5V1781.7H256.3ZM260.5 1765.1H264.6V1769.3H260.5ZM264.6 1748.5H268.8V1756.8H264.6ZM268.8 1736.1H272.9V1744.4H268.8ZM272.9 1719.5H277.1V1731.9H272.9ZM277.1 1707H281.2V1719.5H277.1ZM281.2 1690.4H285.4V1707H281.2ZM285.4 1678H289.5V1694.6H285.4ZM289.5 1661.4H293.7V1682.1H289.5ZM293.7 1648.9H297.8V1669.7H293.7ZM297.8 1632.3H302V1657.2H297.8ZM302 1619.9H306.1V1644.8H302ZM306.1 1607.4H310.3V1632.3H306.1ZM310.3 1595H314.4V1619.9H310.3ZM314.4 1582.5H318.6V1607.4H314.4ZM318.6 1574.2H322.7V1595H318.6ZM322.7 1561.8H326.9V1582.5H322.7ZM326.9 1553.5H331V1574.2H326.9ZM331 1545.2H335.2V1561.8H331ZM335.2 1536.9H339.3V1553.5H335.2ZM339.3 1528.6H343.5V1545.2H339.3ZM343.5 1516.1H347.6V1536.9H343.5ZM347.6 1507.8H351.8V1528.6H347.6ZM351.8 1499.5H355.9V1516.1H351.8ZM355.9 1491.2H360.1V1507.8H355.9ZM360.1 1482.9H364.2V1499.5H360.1ZM364.2 1470.5H368.4V1491.2H364.2ZM368.4 1462.2H372.5V1482.9H368.4ZM372.5 1453.9H376.7V1470.5H372.5ZM376.7 1445.6H380.8V1462.2H376.7ZM380.8 1437.3H385V1453.9H380.8ZM385 1424.8H389.1V1445.6H385ZM389.1 1416.5H393.3V1437.3H389.1ZM393.3 1412.4H397.4V1424.8H393.3ZM397.4 1404.1H401.6V1416.5H397.4ZM401.6 1395.8H405.7V1412.4H401.6ZM405.7 1391.6H409.9V1404.1H405.7ZM409.9 1383.3H414V1395.8H409.9ZM414 1375H418.2V1391.6H414ZM418.2 1370.9H422.3V1383.3H418.2ZM422.3 1362.6H426.5V1375H422.3ZM426.5 1354.3H430.6V1370.9H426.5ZM430.6 1350.1H434.8V1362.6H430.6ZM434.8 1341.8H438.9V1354.3H434.8ZM438.9 1333.5H443.1V1350.1H438.9ZM443.1 1329.4H447.2V1341.8H443.1ZM447.2 1321.1H451.4V1333.5H447.2ZM451.4 1312.8H455.5V1329.4H451.4ZM455.5 1308.6H459.7V1321.1H455.5ZM459.7 1300.3H463.8V1312.8H459.7ZM463.8 1292H468V1308.6H463.8ZM468 1287.9H472.1V1300.3H468ZM472.1 1283.7H476.3V1292H472.1ZM476.3 1279.6H480.4V1287.9H476.3ZM480.4 1271.3H484.6V1283.7H480.4ZM484.6 1267.1H488.8V1279.6H484.6ZM488.8 1263H492.9V1271.3H488.8ZM492.9 1254.7H497.1V1267.1H492.9ZM497.1 1250.5H501.2V1263H497.1ZM501.2 1246.4H505.4V1254.7H501.2ZM505.4 1238.1H509.5V1250.5H505.4ZM509.5 1233.9H513.7V1246.4H509.5ZM513.7 1229.8H517.8V1238.1H513.7ZM517.8 1221.5H522V1233.9H517.8ZM522 1217.3H526.1V1229.8H522ZM526.1 1213.2H530.3V1221.5H526.1ZM530.3 1204.9H534.4V1217.3H530.3ZM534.4 1200.7H538.6V1213.2H534.4ZM538.6 1196.6H542.7V1204.9H538.6ZM542.7 1192.4H546.9V1200.7H542.7ZM546.9 1188.3H551V1196.6H546.9ZM551 1184.1H555.2V1192.4H551ZM555.2 1180H559.3V1188.3H555.2ZM559.3 1175.8H563.5V1184.1H559.3ZM563.5 1171.7H567.6V1180H563.5ZM567.6 1167.5H571.8V1175.8H567.6ZM571.8 1163.4H575.9V1171.7H571.8ZM575.9 1155.1H580.1V1167.5H575.9ZM580.1 1150.9H584.2V1163.4H580.1ZM584.2 1146.8H588.4V1155.1H584.2ZM588.4 1142.6H592.5V1150.9H588.4ZM592.5 1138.5H596.7V1146.8H592.5ZM596.7 1134.3H600.8V1142.6H596.7ZM600.8 1130.2H605V1138.5H600.8ZM605 1126H609.1V1134.3H605ZM609.1 1121.9H613.3V1130.2H609.1ZM613.3 1117.7H617.4V1130.2H613.3ZM617.4 1113.6H621.6V1126H617.4ZM621.6 1109.4H625.7V1121.9H621.6ZM625.7 1109.4H629.9V1117.7H625.7ZM629.9 1105.3H634V1117.7H629.9ZM634 1101.1H638.2V1113.6H634ZM638.2 1097H642.3V1109.4H638.2ZM642.3 1092.8H646.5V1105.3H642.3ZM646.5 1088.7H650.6V1101.1H646.5ZM650.6 1084.5H654.8V1097H650.6ZM654.8 1080.4H658.9V1092.8H654.8ZM658.9 1076.2H663.1V1088.7H658.9ZM663.1 1076.2H667.2V1084.5H663.1ZM667.2 1072.1H671.4V1084.5H667.2ZM671.4 1067.9H675.5V1080.4H671.4ZM675.5 1063.8H679.7V1076.2H675.5ZM679.7 1059.6H683.8V1072.1H679.7ZM683.8 1055.5H688V1067.9H683.8ZM688 1051.3H692.1V1063.8H688ZM692.1 1051.3H696.3V1059.6H692.1ZM696.3 1047.2H700.4V1059.6H696.3ZM700.4 1043H704.6V1055.5H700.4ZM704.6 1038.9H708.7V1051.3H704.6ZM708.7 1038.9H712.9V1047.2H708.7ZM712.9 1034.7H717V1047.2H712.9ZM717 1030.6H721.2V1043H717ZM721.2 1026.4H725.3V1038.9H721.2ZM725.3 1026.4H729.5V1034.7H725.3ZM729.5 1022.3H733.7V1034.7H729.5ZM733.7 1018.1H737.8V1030.6H733.7ZM737.8 1014H742V1026.4H737.8ZM742 1014H746.1V1022.3H742ZM746.1 1009.8H750.3V1022.3H746.1ZM750.3 1005.7H754.4V1018.1H750.3ZM754.4 1001.5H762.7V1014H754.4ZM762.7 997.4H766.9V1009.8H762.7ZM766.9 993.2H771V1005.7H766.9ZM771 993.2H775.2V1001.5H771ZM775.2 989.1H779.3V1001.5H775.2ZM779.3 989.1H783.5V997.4H779.3ZM783.5 984.9H787.6V997.4H783.5ZM787.6 980.8H791.8V993.2H787.6ZM791.8 980.8H795.9V989.1H791.8ZM795.9 976.6H800.1V989.1H795.9ZM800.1 972.5H804.2V984.9H800.1ZM804.2 972.5H808.4V980.8H804.2ZM808.4 968.3H812.5V980.8H808.4ZM812.5 964.2H816.7V976.6H812.5ZM816.7 964.2H820.8V972.5H816.7ZM820.8 960H825V972.5H820.8ZM825 955.9H833.3V968.3H825ZM833.3 951.7H837.4V964.2H833.3ZM837.4 951.7H841.6V960H837.4ZM841.6 947.6H845.7V960H841.6ZM845.7 947.6H849.9V955.9H845.7ZM849.9 943.4H854V955.9H849.9ZM854 943.4H858.2V951.7H854ZM858.2 939.3H862.3V951.7H858.2ZM862.3 939.3H866.5V947.6H862.3ZM866.5 935.1H870.6V947.6H866.5ZM870.6 931H874.8V943.4H870.6ZM874.8 931H878.9V939.3H874.8ZM878.9 926.8H883.1V939.3H878.9ZM883.1 926.8H887.2V935.1H883.1ZM887.2 922.7H891.4V935.1H887.2ZM891.4 922.7H895.5V931H891.4ZM895.5 918.6H899.7V931H895.5ZM899.7 918.6H903.8V926.8H899.7ZM903.8 914.4H908V926.8H903.8ZM908 914.4H912.1V922.7H908ZM912.1 910.3H916.3V922.7H912.1ZM916.3 910.3H920.4V918.6H916.3ZM920.4 906.1H924.6V918.6H920.4ZM924.6 906.1H928.7V914.4H924.6ZM928.7 902H932.9V914.4H928.7ZM932.9 902H937V910.3H932.9ZM937 897.8H941.2V910.3H937ZM941.2 897.8H945.3V906.1H941.2ZM945.3 893.7H949.5V906.1H945.3ZM949.5 893.7H953.6V902H949.5ZM953.6 889.5H957.8V902H953.6ZM957.8 889.5H961.9V897.8H957.8ZM961.9 885.4H966.1V897.8H961.9ZM966.1 885.4H970.3V893.7H966.1ZM970.3 881.2H978.6V893.7H970.3ZM978.6 881.2H982.7V889.5H978.6ZM982.7 877.1H986.9V889.5H982.7ZM986.9 877.1H991V885.4H986.9ZM991 872.9H995.2V885.4H991ZM995.2 872.9H999.3V881.2H995.2ZM999.3 868.8H1003.5V881.2H999.3ZM1003.5 868.8H1011.8V877.1H1003.5ZM1011.8 864.6H1015.9V877.1H1011.8ZM1015.9 864.6H1020.1V872.9H1015.9ZM1020.1 860.5H1024.2V872.9H1020.1ZM1024.2 860.5H1028.4V868.8H1024.2ZM1028.4 856.3H1032.5V868.8H1028.4ZM1032.5 856.3H1040.8V864.6H1032.5ZM1040.8 852.2H1045V864.6H1040.8ZM1045 852.2H1049.1V860.5H1045ZM1049.1 848H1053.3V860.5H1049.1ZM1053.3 848H1061.6V856.3H1053.3ZM1061.6 843.9H1065.7V856.3H1061.6ZM1065.7 843.9H1069.9V852.2H1065.7ZM1069.9 839.7H1074V852.2H1069.9ZM1074 839.7H1082.3V848H1074ZM1082.3 835.6H1086.5V848H1082.3ZM1086.5 835.6H1090.6V843.9H1086.5ZM1090.6 831.4H1094.8V843.9H1090.6ZM1094.8 831.4H1103.1V839.7H1094.8ZM1103.1 827.3H1107.2V839.7H1103.1ZM1107.2 827.3H1111.4V835.6H1107.2ZM1111.4 823.1H1115.5V835.6H1111.4ZM1115.5 823.1H1123.8V831.4H1115.5ZM1123.8 819H1128V831.4H1123.8ZM1128 819H1136.3V827.3H1128ZM1136.3 814.8H1140.4V827.3H1136.3ZM1140.4 814.8H1148.7V823.1H1140.4ZM1148.7 810.7H1152.9V823.1H1148.7ZM1152.9 810.7H1161.2V819H1152.9ZM1161.2 806.5H1165.3V819H1161.2ZM1165.3 806.5H1169.5V814.8H1165.3ZM1169.5 802.4H1173.6V814.8H1169.5ZM1173.6 802.4H1181.9V810.7H1173.6ZM1181.9 798.2H1186.1V810.7H1181.9ZM1186.1 798.2H1198.5V806.5H1186.1ZM1198.5 794.1H1202.7V806.5H1198.5ZM1202.7 794.1H1211V802.4H1202.7ZM1211 789.9H1215.2V802.4H1211ZM1215.2 789.9H1223.5V798.2H1215.2ZM1223.5 785.8H1227.6V798.2H1223.5ZM1227.6 785.8H1240.1V794.1H1227.6ZM1240.1 781.6H1244.2V794.1H1240.1ZM1244.2 781.6H1252.5V789.9H1244.2ZM1252.5 777.5H1256.7V789.9H1252.5ZM1256.7 777.5H1265V785.8H1256.7ZM1265 773.3H1269.1V785.8H1265ZM1269.1 773.3H1281.6V781.6H1269.1ZM1281.6 769.2H1285.7V781.6H1281.6ZM1285.7 769.2H1298.2V777.5H1285.7ZM1298.2 765H1302.3V777.5H1298.2ZM1302.3 765H1310.6V773.3H1302.3ZM1310.6 760.9H1314.8V773.3H1310.6ZM1314.8 760.9H1327.2V769.2H1314.8ZM1327.2 756.7H1331.4V769.2H1327.2ZM1331.4 756.7H1339.7V765H1331.4ZM1339.7 752.6H1343.8V765H1339.7ZM1343.8 752.6H1356.3V760.9H1343.8ZM1356.3 748.4H1360.4V760.9H1356.3ZM1360.4 748.4H1368.7V756.7H1360.4ZM1368.7 744.3H1372.9V756.7H1368.7ZM1372.9 744.3H1385.3V752.6H1372.9ZM1385.3 740.1H1389.5V752.6H1385.3ZM1389.5 740.1H1397.8V748.4H1389.5ZM1397.8 736H1401.9V748.4H1397.8ZM1401.9 736H1418.5V744.3H1401.9ZM1418.5 731.8H1422.7V744.3H1418.5ZM1422.7 731.8H1435.1V740.1H1422.7ZM1435.1 727.7H1439.3V740.1H1435.1ZM1439.3 727.7H1451.8V736H1439.3ZM1451.8 723.5H1455.9V736H1451.8ZM1455.9 723.5H1468.4V731.8H1455.9ZM1468.4 719.4H1472.5V731.8H1468.4ZM1472.5 719.4H1493.3V727.7H1472.5ZM1493.3 715.2H1497.4V727.7H1493.3ZM1497.4 715.2H1514V723.5H1497.4ZM1514 711.1H1518.2V723.5H1514ZM1518.2 711.1H1538.9V719.4H1518.2ZM1538.9 706.9H1543.1V719.4H1538.9ZM1543.1 706.9H1559.7V715.2H1543.1ZM1559.7 702.8H1563.8V715.2H1559.7ZM1563.8 702.8H1580.4V711.1H1563.8ZM1580.4 698.6H1584.6V711.1H1580.4ZM1584.6 698.6H1597V706.9H1584.6ZM1597 694.5H1601.2V706.9H1597ZM1601.2 694.5H1617.8V702.8H1601.2ZM1617.8 690.3H1621.9V702.8H1617.8ZM1621.9 690.3H1638.5V698.6H1621.9ZM1638.5 686.2H1642.7V698.6H1638.5ZM1642.7 686.2H1663.4V694.5H1642.7ZM1663.4 682H1667.6V694.5H1663.4ZM1667.6 682H1684.2V690.3H1667.6ZM1684.2 677.9H1688.3V690.3H1684.2ZM1688.3 677.9H1713.3V686.2H1688.3ZM1713.3 673.7H1717.4V686.2H1713.3ZM1717.4 673.7H1742.3V682H1717.4ZM1742.3 669.6H1746.5V682H1742.3ZM1746.5 669.6H1771.4V677.9H1746.5ZM1771.4 665.4H1775.5V677.9H1771.4ZM1775.5 665.4H1796.3V673.7H1775.5ZM1796.3 661.3H1800.4V673.7H1796.3ZM1800.4 661.3H1821.2V669.6H1800.4ZM1821.2 657.1H1825.3V669.6H1821.2ZM1825.3 657.1H1846.1V665.4H1825.3ZM1846.1 653H1850.2V665.4H1846.1ZM1850.2 653H1879.3V661.3H1850.2ZM1879.3 648.8H1883.4V661.3H1879.3ZM1883.4 648.8H1908.3V657.1H1883.4ZM1908.3 644.7H1912.5V657.1H1908.3ZM1912.5 644.7H1941.6V653H1912.5ZM1941.6 640.5H1945.7V653H1941.6ZM1945.7 640.5H1970.6V648.8H1945.7ZM1970.6 636.4H1974.8V648.8H1970.6ZM1974.8 636.4H1999.7V644.7H1974.8ZM1999.7 632.2H2003.8V644.7H1999.7ZM2003.8 632.2H2028.7V640.5H2003.8ZM2028.7 628.1H2032.9V640.5H2028.7ZM2032.9 628.1H2057.8V636.4H2032.9ZM2057.8 623.9H2061.9V636.4H2057.8ZM2061.9 623.9H2099.3V632.2H2061.9ZM2099.3 619.8H2103.4V632.2H2099.3ZM2103.4 619.8H2140.8V628.1H2103.4ZM2140.8 615.6H2144.9V628.1H2140.8ZM2144.9 615.6H2186.5V623.9H2144.9ZM2186.5 611.5H2190.6V623.9H2186.5ZM2190.6 611.5H2219.7V619.8H2190.6ZM2219.7 607.3H2223.8V619.8H2219.7ZM2223.8 607.3H2252.9V615.6H2223.8ZM2252.9 603.2H2257V615.6H2252.9ZM2257 603.2H2298.5V611.5H2257ZM2298.5 599H2302.7V611.5H2298.5ZM2302.7 599H2352.5V607.3H2302.7ZM2352.5 594.9H2356.6V607.3H2352.5ZM2356.6 594.9H2394V603.2H2356.6ZM2394 590.7H2398.1V603.2H2394ZM2398.1 590.7H2414.8V599H2398.1Z"/>
<path fill="#404040" d="M248 1777.6H252.2V1794.1H248ZM252.2 1765.1H256.3V1790H252.2ZM256.3 1748.5H260.5V1777.6H256.3ZM260.5 1736.1H264.6V1765.1H260.5ZM264.6 1719.5H268.8V1748.5H264.6ZM268.8 1707H272.9V1736.1H268.8ZM272.9 1690.4H277.1V1719.5H272.9ZM277.1 1678H281.2V1707H277.1ZM281.2 1661.4H285.4V1690.4H281.2ZM285.4 1648.9H289.5V1678H285.4ZM289.5 1632.3H293.7V1661.4H289.5ZM293.7 1619.9H297.8V1648.9H293.7ZM297.8 1603.3H302V1632.3H297.8ZM302 1590.8H306.1V1619.9H302ZM306.1 1574.2H310.3V1603.3H306.1ZM310.3 1561.8H314.4V1590.8H310.3ZM314.4 1549.3H318.6V1574.2H314.4ZM318.6 1536.9H322.7V1561.8H318.6ZM322.7 1524.4H326.9V1549.3H322.7ZM326.9 1512H331V1536.9H326.9ZM331 1503.7H335.2V1524.4H331ZM335.2 1491.2H339.3V1512H335.2ZM339.3 1478.8H343.5V1503.7H339.3ZM343.5 1470.5H347.6V1491.2H343.5ZM347.6 1458H351.8V1478.8H347.6ZM351.8 1445.6H355.9V1470.5H351.8ZM355.9 1437.3H360.1V1458H355.9ZM360.1 1424.8H364.2V1445.6H360.1ZM364.2 1412.4H368.4V1437.3H364.2ZM368.4 1404.1H372.5V1424.8H368.4ZM372.5 1391.6H376.7V1412.4H372.5ZM376.7 1379.2H380.8V1404.1H376.7ZM380.8 1370.9H385V1391.6H380.8ZM385 1358.4H389.1V1379.2H385ZM389.1 1350.1H393.3V1370.9H389.1ZM393.3 1341.8H397.4V1358.4H393.3ZM397.4 1329.4H401.6V1350.1H397.4ZM401.6 1321.1H405.7V1341.8H401.6ZM405.7 1312.8H409.9V1329.4H405.7ZM409.9 1304.5H414V1321.1H409.9ZM414 1296.2H418.2V1312.8H414ZM418.2 1287.9H422.3V1304.5H418.2ZM422.3 1279.6H426.5V1296.2H422.3ZM426.5 1271.3H430.6V1287.9H426.5ZM430.6 1263H434.8V1279.6H430.6ZM434.8 1250.5H438.9V1271.3H434.8ZM438.9 1242.2H443.1V1263H438.9ZM443.1 1233.9H447.2V1250.5H443.1ZM447.2 1225.6H451.4V1242.2H447.2ZM451.4 1217.3H455.5V1233.9H451.4ZM455.5 1209H459.7V1225.6H455.5ZM459.7 1200.7H463.8V1217.3H459.7ZM463.8 1192.4H468V1209H463.8ZM468 1184.1H472.1V1200.7H468ZM472.1 1180H476.3V1192.4H472.1ZM476.3 1171.7H480.4V1184.1H476.3ZM480.4 1163.4H484.6V1180H480.4ZM484.6 1159.2H488.8V1171.7H484.6ZM488.8 1150.9H492.9V1163.4H488.8ZM492.9 1142.6H497.1V1159.2H492.9ZM497.1 1134.3H501.2V1150.9H497.1ZM501.2 1130.2H505.4V1142.6H501.2ZM505.4 1121.9H509.5V1134.3H505.4ZM509.5 1113.6H513.7V1130.2H509.5ZM513.7 1109.4H517.8V1121.9H513.7ZM517.8 1101.1H522V1113.6H517.8ZM522 1092.8H526.1V1109.4H522ZM526.1 1084.5H530.3V1101.1H526.1ZM530.3 1080.4H534.4V1092.8H530.3ZM534.4 1072.1H538.6V1084.5H534.4ZM538.6 1067.9H542.7V1080.4H538.6ZM542.7 1059.6H546.9V1072.1H542.7ZM546.9 1055.5H551V1067.9H546.9ZM551 1047.2H555.2V1059.6H551ZM555.2 1043H559.3V1055.5H555.2ZM559.3 1038.9H563.5V1047.2H559.3ZM563.5 1030.6H567.6V1043H563.5ZM567.6 1026.4H571.8V1038.9H567.6ZM571.8 1018.1H575.9V1030.6H571.8ZM575.9 1014H580.1V1026.4H575.9ZM580.1 1009.8H584.2V1018.1H580.1ZM584.2 1001.5H588.4V1014H584.2ZM588.4 997.4H592.5V1009.8H588.4ZM592.5 989.1H596.7V1001.5H592.5ZM596.7 984.9H600.8V997.4H596.7ZM600.8 976.6H605V989.1H600.8ZM605 972.5H609.1V984.9H605ZM609.1 968.3H613.3V976.6H609.1ZM613.3 964.2H617.4V972.5H613.3ZM617.4 955.9H621.6V968.3H617.4ZM621.6 951.7H625.7V964.2H621.6ZM625.7 947.6H629.9V955.9H625.7ZM629.9 943.4H634V951.7H629.9ZM634 939.3H638.2V947.6H634ZM638.2 935.1H642.3V943.4H638.2ZM642.3 926.8H646.5V939.3H642.3ZM646.5 922.7H650.6V935.1H646.5ZM650.6 918.6H654.8V926.8H650.6ZM654.8 914.4H658.9V922.7H654.8ZM658.9 910.3H663.1V918.6H658.9ZM663.1 902H667.2V914.4H663.1ZM667.2 897.8H671.4V910.3H667.2ZM671.4 893.7H675.5V902H671.4ZM675.5 889.5H679.7V897.8H675.5ZM679.7 885.4H683.8V893.7H679.7ZM683.8 881.2H688V889.5H683.8ZM688 877.1H692.1V885.4H688ZM692.1 872.9H696.3V881.2H692.1ZM696.3 868.8H700.4V877.1H696.3ZM700.4 864.6H704.6V872.9H700.4ZM704.6 860.5H708.7V868.8H704.6ZM708.7 856.3H712.9V864.6H708.7ZM712.9 852.2H717V860.5H712.9ZM717 848H721.2V856.3H717ZM721.2 839.7H725.3V852.2H721.2ZM725.3 835.6H729.5V848H725.3ZM729.5 831.4H733.7V839.7H729.5ZM733.7 827.3H737.8V835.6H733.7ZM737.8 823.1H742V831.4H737.8ZM742 819H746.1V827.3H742ZM746.1 814.8H750.3V823.1H746.1ZM750.3 810.7H754.4V819H750.3ZM754.4 806.5H762.7V814.8H754.4ZM762.7 802.4H766.9V814.8H762.7ZM766.9 798.2H771V810.7H766.9ZM771 794.1H775.2V806.5H771ZM775.2 789.9H779.3V802.4H775.2ZM779.3 785.8H783.5V798.2H779.3ZM783.5 781.6H787.6V794.1H783.5ZM787.6 777.5H791.8V789.9H787.6ZM791.8 777.5H795.9V785.8H791.8ZM795.9 773.3H800.1V785.8H795.9ZM800.1 769.2H804.2V781.6H800.1ZM804.2 765H808.4V777.5H804.2ZM808.4 760.9H812.5V773.3H808.4ZM812.5 756.7H816.7V769.2H812.5ZM816.7 752.6H820.8V765H816.7ZM820.8 748.4H825V760.9H820.8ZM825 748.4H829.1V756.7H825ZM829.1 744.3H833.3V756.7H829.1ZM833.3 740.1H837.4V752.6H833.3ZM837.4 736H841.6V748.4H837.4ZM841.6 736H845.7V744.3H841.6ZM845.7 731.8H849.9V744.3H845.7ZM849.9 727.7H854V740.1H849.9ZM854 723.5H858.2V736H854ZM858.2 719.4H862.3V731.8H858.2ZM862.3 719.4H866.5V727.7H862.3ZM866.5 715.2H870.6V727.7H866.5ZM870.6 711.1H874.8V723.5H870.6ZM874.8 706.9H878.9V719.4H874.8ZM878.9 706.9H883.1V715.2H878.9ZM883.1 702.8H887.2V715.2H883.1ZM887.2 698.6H891.4V711.1H887.2ZM891.4 694.5H895.5V706.9H891.4ZM895.5 690.3H899.7V702.8H895.5ZM899.7 690.3H903.8V698.6H899.7ZM903.8 686.2H908V698.6H903.8ZM908 682H912.1V694.5H908ZM912.1 682H916.3V690.3H912.1ZM916.3 677.9H920.4V690.3H916.3ZM920.4 673.7H924.6V686.2H920.4ZM924.6 673.7H928.7V682H924.6ZM928.7 669.6H932.9V682H928.7ZM932.9 665.4H937V677.9H932.9ZM937 665.4H941.2V673.7H937ZM941.2 661.3H945.3V673.7H941.2ZM945.3 657.1H949.5V669.6H945.3ZM949.5 657.1H953.6V665.4H949.5ZM953.6 653H957.8V665.4H953.6ZM957.8 653H961.9V661.3H957.8ZM961.9 648.8H966.1V661.3H961.9ZM966.1 644.7H970.3V657.1H966.1ZM970.3 644.7H974.4V653H970.3ZM974.4 640.5H978.6V653H974.4ZM978.6 636.4H982.7V648.8H978.6ZM982.7 636.4H986.9V644.7H982.7ZM986.9 632.2H991V644.7H986.9ZM991 628.1H995.2V640.5H991ZM995.2 628.1H999.3V636.4H995.2ZM999.3 623.9H1003.5V636.4H999.3ZM1003.5 623.9H1007.6V632.2H1003.5ZM1007.6 619.8H1011.8V632.2H1007.6ZM1011.8 615.6H1015.9V628.1H1011.8ZM1015.9 615.6H1020.1V623.9H1015.9ZM1020.1 611.5H1024.2V623.9H1020.1ZM1024.2 611.5H1028.4V619.8H1024.2ZM1028.4 607.3H1032.5V619.8H1028.4ZM1032.5 603.2H1036.7V615.6H1032.5ZM1036.7 603.2H1040.8V611.5H1036.7ZM1040.8 599H1045V611.5H1040.8ZM1045 599H1049.1V607.3H1045ZM1049.1 594.9H1053.3V607.3H1049.1ZM1053.3 590.7H1057.4V603.2H1053.3ZM1057.4 590.7H1061.6V599H1057.4ZM1061.6 586.6H1065.7V599H1061.6ZM1065.7 586.6H1069.9V594.9H1065.7ZM1069.9 582.4H1074V594.9H1069.9ZM1074 582.4H1078.2V590.7H1074ZM1078.2 578.3H1082.3V590.7H1078.2ZM1082.3 578.3H1086.5V586.6H1082.3ZM1086.5 574.1H1090.6V586.6H1086.5ZM1090.6 574.1H1094.8V582.4H1090.6ZM1094.8 570H1098.9V582.4H1094.8ZM1098.9 565.8H1103.1V578.3H1098.9ZM1103.1 565.8H1107.2V574.1H1103.1ZM1107.2 561.7H1111.4V574.1H1107.2ZM1111.4 561.7H1115.5V570H1111.4ZM1115.5 557.5H1119.7V570H1115.5ZM1119.7 557.5H1123.8V565.8H1119.7ZM1123.8 553.4H1128V565.8H1123.8ZM1128 553.4H1132.1V561.7H1128ZM1132.1 549.2H1136.3V561.7H1132.1ZM1136.3 549.2H1140.4V557.5H1136.3ZM1140.4 545.1H1144.6V557.5H1140.4ZM1144.6 545.1H1148.7V553.4H1144.6ZM1148.7 540.9H1152.9V553.4H1148.7ZM1152.9 540.9H1161.2V549.2H1152.9ZM1161.2 536.8H1165.3V549.2H1161.2ZM1165.3 536.8H1169.5V545.1H1165.3ZM1169.5 532.6H1173.6V545.1H1169.5ZM1173.6 532.6H1177.8V540.9H1173.6ZM1177.8 528.5H1181.9V540.9H1177.8ZM1181.9 528.5H1186.1V536.8H1181.9ZM1186.1 524.3H1190.2V536.8H1186.1ZM1190.2 524.3H1194.4V532.6H1190.2ZM1194.4 520.2H1198.5V532.6H1194.4ZM1198.5 520.2H1202.7V528.5H1198.5ZM1202.7 516H1206.8V528.5H1202.7ZM1206.8 516H1215.2V524.3H1206.8ZM1215.2 511.9H1219.3V524.3H1215.2ZM1219.3 511.9H1223.5V520.2H1219.3ZM1223.5 507.7H1227.6V520.2H1223.5ZM1227.6 507.7H1231.8V516H1227.6ZM1231.8 503.6H1235.9V516H1231.8ZM1235.9 503.6H1244.2V511.9H1235.9ZM1244.2 499.4H1248.4V511.9H1244.2ZM1248.4 499.4H1252.5V507.7H1248.4ZM1252.5 495.3H1256.7V507.7H1252.5ZM1256.7 495.3H1260.8V503.6H1256.7ZM1260.8 491.1H1265V503.6H1260.8ZM1265 491.1H1273.3V499.4H1265ZM1273.3 487H1277.4V499.4H1273.3ZM1277.4 487H1281.6V495.3H1277.4ZM1281.6 482.8H1285.7V495.3H1281.6ZM1285.7 482.8H1294V491.1H1285.7ZM1294 478.7H1298.2V491.1H1294ZM1298.2 478.7H1306.5V487H1298.2ZM1306.5 474.5H1310.6V487H1306.5ZM1310.6 474.5H1314.8V482.8H1310.6ZM1314.8 470.4H1318.9V482.8H1314.8ZM1318.9 470.4H1327.2V478.7H1318.9ZM1327.2 466.2H1331.4V478.7H1327.2ZM1331.4 466.2H1335.5V474.5H1331.4ZM1335.5 462.1H1339.7V474.5H1335.5ZM1339.7 462.1H1348V470.4H1339.7ZM1348 457.9H1352.1V470.4H1348ZM1352.1 457.9H1356.3V466.2H1352.1ZM1356.3 453.8H1360.4V466.2H1356.3ZM1360.4 453.8H1368.7V462.1H1360.4ZM1368.7 449.6H1372.9V462.1H1368.7ZM1372.9 449.6H1381.2V457.9H1372.9ZM1381.2 445.5H1385.3V457.9H1381.2ZM1385.3 445.5H1389.5V453.8H1385.3ZM1389.5 441.3H1393.6V453.8H1389.5ZM1393.6 441.3H1401.9V449.6H1393.6ZM1401.9 437.2H1406.1V449.6H1401.9ZM1406.1 437.2H1414.4V445.5H1406.1ZM1414.4 433H1418.5V445.5H1414.4ZM1418.5 433H1426.8V441.3H1418.5ZM1426.8 428.9H1431V441.3H1426.8ZM1431 428.9H1439.3V437.2H1431ZM1439.3 424.7H1443.4V437.2H1439.3ZM1443.4 424.7H1455.9V433H1443.4ZM1455.9 420.6H1460.1V433H1455.9ZM1460.1 420.6H1468.4V428.9H1460.1ZM1468.4 416.4H1472.5V428.9H1468.4ZM1472.5 416.4H1480.8V424.7H1472.5ZM1480.8 412.3H1485V424.7H1480.8ZM1485 412.3H1493.3V420.6H1485ZM1493.3 408.1H1497.4V420.6H1493.3ZM1497.4 408.1H1505.7V416.4H1497.4ZM1505.7 404H1509.9V416.4H1505.7ZM1509.9 404H1518.2V412.3H1509.9ZM1518.2 399.8H1522.3V412.3H1518.2ZM1522.3 399.8H1530.6V408.1H1522.3ZM1530.6 395.7H1534.8V408.1H1530.6ZM1534.8 395.7H1547.2V404H1534.8ZM1547.2 391.5H1551.4V404H1547.2ZM1551.4 391.5H1559.7V399.8H1551.4ZM1559.7 387.4H1563.8V399.8H1559.7ZM1563.8 387.4H1572.1V395.7H1563.8ZM1572.1 383.2H1576.3V395.7H1572.1ZM1576.3 383.2H1588.7V391.5H1576.3ZM1588.7 379.1H1592.9V391.5H1588.7ZM1592.9 379.1H1601.2V387.4H1592.9ZM1601.2 374.9H1605.3V387.4H1601.2ZM1605.3 374.9H1617.8V383.2H1605.3ZM1617.8 370.8H1621.9V383.2H1617.8ZM1621.9 370.8H1634.4V379.1H1621.9ZM1634.4 366.6H1638.5V379.1H1634.4ZM1638.5 366.6H1651V374.9H1638.5ZM1651 362.5H1655.1V374.9H1651ZM1655.1 362.5H1667.6V370.8H1655.1ZM1667.6 358.3H1671.7V370.8H1667.6ZM1671.7 358.3H1684.2V366.6H1671.7ZM1684.2 354.2H1688.3V366.6H1684.2ZM1688.3 354.2H1700.8V362.5H1688.3ZM1700.8 350H1705V362.5H1700.8ZM1705 350H1717.4V358.3H1705ZM1717.4 345.9H1721.6V358.3H1717.4ZM1721.6 345.9H1729.9V354.2H1721.6ZM1729.9 341.7H1734V354.2H1729.9ZM1734 341.7H1746.5V350H1734ZM1746.5 337.6H1750.6V350H1746.5ZM1750.6 337.6H1763.1V345.9H1750.6ZM1763.1 333.4H1767.2V345.9H1763.1ZM1767.2 333.4H1779.7V341.7H1767.2ZM1779.7 329.3H1783.8V341.7H1779.7ZM1783.8 329.3H1796.3V337.6H1783.8ZM1796.3 325.1H1800.4V337.6H1796.3ZM1800.4 325.1H1817V333.4H1800.4ZM1817 321H1821.2V333.4H1817ZM1821.2 321H1833.6V329.3H1821.2ZM1833.6 316.8H1837.8V329.3H1833.6ZM1837.8 316.8H1858.5V325.1H1837.8ZM1858.5 312.7H1862.7V325.1H1858.5ZM1862.7 312.7H1883.4V321H1862.7ZM1883.4 308.5H1887.6V321H1883.4ZM1887.6 308.5H1904.2V316.8H1887.6ZM1904.2 304.4H1908.3V316.8H1904.2ZM1908.3 304.4H1924.9V312.7H1908.3ZM1924.9 300.2H1929.1V312.7H1924.9ZM1929.1 300.2H1941.6V308.5H1929.1ZM1941.6 296.1H1945.7V308.5H1941.6ZM1945.7 296.1H1958.2V304.4H1945.7ZM1958.2 291.9H1962.3V304.4H1958.2ZM1962.3 291.9H1974.8V300.2H1962.3ZM1974.8 287.8H1978.9V300.2H1974.8ZM1978.9 287.8H1999.7V296.1H1978.9ZM1999.7 283.6H2003.8V296.1H1999.7ZM2003.8 283.6H2024.6V291.9H2003.8ZM2024.6 279.5H2028.7V291.9H2024.6ZM2028.7 279.5H2049.5V287.8H2028.7ZM2049.5 275.3H2053.6V287.8H2049.5ZM2053.6 275.3H2074.4V283.6H2053.6ZM2074.4 271.2H2078.5V283.6H2074.4ZM2078.5 271.2H2099.3V279.5H2078.5ZM2099.3 267H2103.4V279.5H2099.3ZM2103.4 267H2124.2V275.3H2103.4ZM2124.2 262.9H2132.5V275.3H2124.2ZM2132.5 262.9H2153.2V271.2H2132.5ZM2153.2 258.7H2157.4V271.2H2153.2ZM2157.4 258.7H2182.3V267H2157.4ZM2182.3 254.6H2186.5V267H2182.3ZM2186.5 254.6H2211.4V262.9H2186.5ZM2211.4 250.4H2215.5V262.9H2211.4ZM2215.5 250.4H2232.1V258.7H2215.5ZM2232.1 246.3H2236.3V258.7H2232.1ZM2236.3 246.3H2257V254.6H2236.3ZM2257 242.1H2261.2V254.6H2257ZM2261.2 242.1H2286.1V250.4H2261.2ZM2286.1 238H2290.2V250.4H2286.1ZM2290.2 238H2323.4V246.3H2290.2ZM2323.4 233.8H2327.6V246.3H2323.4ZM2327.6 233.8H2356.6V242.1H2327.6ZM2356.6 229.7H2360.8V242.1H2356.6ZM2360.8 229.7H2394V238H2360.8ZM2394 225.5H2398.1V238H2394ZM2398.1 225.5H2414.8V233.8H2398.1Z"/>
</g>
<g id="ylabels" class="b" font-size="73">
<text x="131.2 171.2 193.2" y="1621.8">1.1</text>
<text x="131.2 171.2 193.2" y="1429.2">1.2</text>
<text x="131.2 171.2 193.2" y="1236.9">1.3</text>
<text x="131.2 171.2 193.2" y="1043.8">1.4</text>
<text x="131.2 171.2 193.2" y="850.7">1.5</text>
<text x="131.2 171.2 193.2" y="658.1">1.6</text>
<text x="131.2 171.2 193.2" y="465.5">1.7</text>
<text x="131.2 171.2 193.2" y="272.6">1.8</text>
<text x="131.2 171.2 193.2" y="79.8">1.9</text>
<text x="192.9" y="1814.3">1</text>
</g>
<g id="xlabels" class="b" font-size="73">
<text x="229.6" y="1871.6">0</text>
<text x="545.6 586.4 627.8" y="1871.6">100</text>
<text x="906.2 947.1 988.5" y="1871.6">200</text>
<text x="1267.6 1308.4 1349.8" y="1871.6">300</text>
<text x="1628.5 1669.3 1710.8" y="1871.6">400</text>
<text x="1990.4 2031.2 2072.6" y="1871.6">500</text>
<text x="2351.2 2392.0 2433.4" y="1871.6">600</text>
</g>
<text class="b" font-size="99.6" x="1086.3 1150.6 1177.9 1259.6 1294.2 1328.8 1356.7 1440.2 1466.1 1519.2" y="1977.6">Time (min)</text>
<text class="b" font-size="99.6" transform="rotate(-90)" x="-1225.3 -1158.2 -1111.2 -1085.0 -1036.0 -1000.5 -974.9 -924.3 -889.5 -854.6 -807.8 -764.6 -719.3 -674.1" y="82.8">Relative creep</text>
<text font-size="76" x="1205.6 1230.3 1263.5" y="2118.2">(<tspan class="b">c</tspan>)</text>
<g id="legend">
<g shape-rendering="crispEdges">
<rect x="293.0" y="108.9" width="423.0" height="655.5" fill="#000"/>
<rect x="297.1" y="113.0" width="414.8" height="647.2" fill="#fff"/>
<rect x="330.3" y="157.9" width="164.0" height="8.4" fill="#0000ff"/>
<rect x="326.1" y="162.1" width="4.2" height="4.2" fill="#0000ff"/>
<rect x="330.3" y="248.1" width="164.0" height="8.4" fill="#008000"/>
<rect x="326.1" y="252.3" width="4.2" height="4.2" fill="#008000"/>
<rect x="330.3" y="338.4" width="164.0" height="8.4" fill="#ff0000"/>
<rect x="326.1" y="342.6" width="4.2" height="4.2" fill="#ff0000"/>
<rect x="330.3" y="428.7" width="164.0" height="8.4" fill="#00bfbf"/>
<rect x="326.1" y="432.9" width="4.2" height="4.2" fill="#00bfbf"/>
<rect x="330.3" y="518.8" width="164.0" height="8.4" fill="#df00c4"/>
<rect x="326.1" y="523.0" width="4.2" height="4.2" fill="#df00c4"/>
<rect x="330.3" y="609.0" width="164.0" height="8.4" fill="#bfbf00"/>
<rect x="326.1" y="613.2" width="4.2" height="4.2" fill="#bfbf00"/>
<rect x="330.3" y="699.3" width="164.0" height="8.4" fill="#404040"/>
<rect x="326.1" y="703.5" width="4.2" height="4.2" fill="#404040"/>
</g>
<g class="b" font-size="65.6">
<text x="510.1 541.9 582.0 617.9" y="186.2">τ=6h</text>
<text x="510.1 541.9 582.0 618.1 654.6" y="280.5">τ=10h</text>
<text x="510.1 541.9 582.0 618.1 654.6" y="370.8">τ=14h</text>
<text x="510.1 541.9 582.0 618.1 654.6" y="461.0">τ=18h</text>
<text x="510.1 541.9 582.0 618.1 654.6" y="551.3">τ=22h</text>
<text x="510.1 541.9 582.0 618.1 654.6" y="641.1">τ=26h</text>
<text x="510.1 541.9 582.0 618.1 654.6" y="735.6">τ=30h</text>
</g>
</g>
</svg>
</body>
</html>
